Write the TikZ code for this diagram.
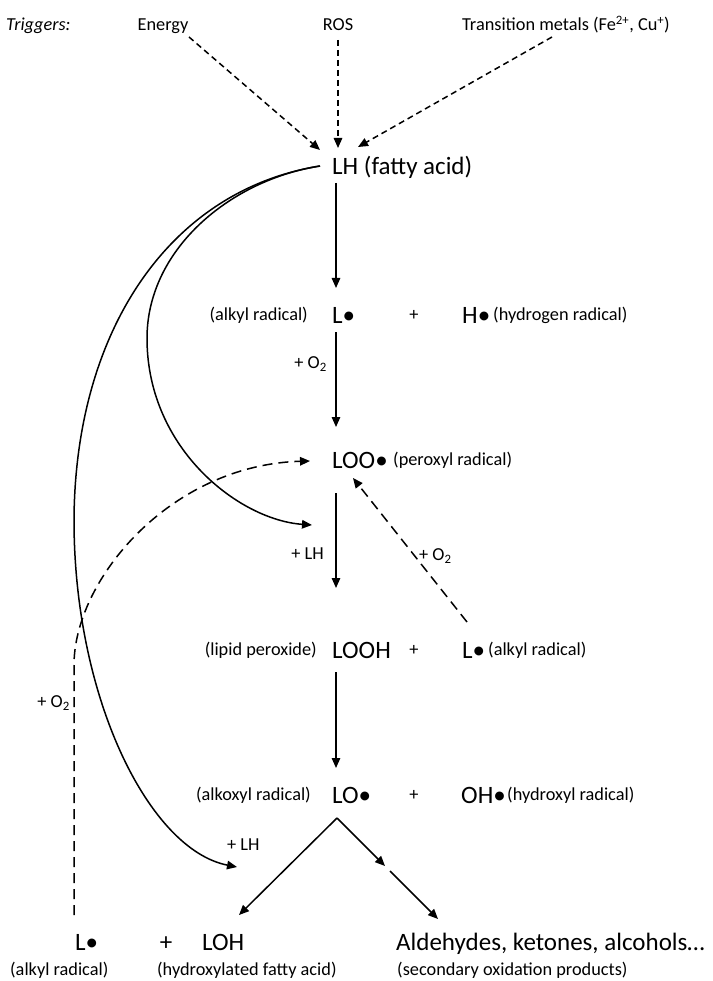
\documentclass[tikz,border=0pt]{standalone}
\usepackage{fontspec}
\setmainfont{Carlito}
\usetikzlibrary{arrows.meta}
\begin{document}
\begin{tikzpicture}[x=1pt,y=-1pt,
  big/.style={font=\fontsize{25}{30}\selectfont, inner sep=0pt},
  small/.style={font=\fontsize{18.3}{22}\selectfont, inner sep=0pt},
  arr/.style={line width=1.5pt, -{Triangle[length=10pt,width=8.5pt]}},
  trig/.style={arr, dash pattern=on 6pt off 4pt},
  dsh/.style={arr, dash pattern=on 10pt off 6pt}]
\useasboundingbox (0,0) rectangle (712,981);
% triggers row
\node[small, anchor=base west] (trg) at (6,30.5) {\itshape Triggers:};
\node[small, anchor=base] (energy) at (163,30.5) {Energy};
\node[small, anchor=base] (ros) at (338,30.5) {ROS};
\node[small, anchor=base west] (tm) at (462,30.5) {Transition metals (Fe\textsuperscript{2+}, Cu\textsuperscript{+})};
% main column
\node[big, anchor=base west] (LH) at (332,175) {LH (fatty acid)};
\node[small, anchor=base east] (alk1) at (308,320.5) {(alkyl radical)};
\node[big, anchor=base west] (L1) at (332,323) {L•};
\node[small, anchor=base] (p1) at (414,320.5) {+};
\node[big, anchor=base west] (H1) at (462,323) {H•};
\node[small, anchor=base west] (hyd) at (493,320.5) {(hydrogen radical)};
\node[small, anchor=base east] (o2a) at (327,368.5) {+ O\textsubscript{2}};
\node[big, anchor=base west] (LOO) at (332,468) {LOO•};
\node[small, anchor=base west] (perox) at (393,465.5) {(peroxyl radical)};
\node[small, anchor=base east] (lha) at (324,559.5) {+ LH};
\node[small, anchor=base west] (o2b) at (419,560.5) {+ O\textsubscript{2}};
\node[small, anchor=base east] (lipid) at (317,655.5) {(lipid peroxide)};
\node[big, anchor=base west] (LOOH) at (332,658) {LOOH};
\node[small, anchor=base] (p2) at (414,655.5) {+};
\node[big, anchor=base west] (L2) at (462,658) {L•};
\node[small, anchor=base west] (alk2) at (488,655.5) {(alkyl radical)};
\node[small, anchor=base east] (o2c) at (70,707.5) {+ O\textsubscript{2}};
\node[small, anchor=base east] (alkoxyl) at (311,800.5) {(alkoxyl radical)};
\node[big, anchor=base west] (LO) at (332,803) {LO•};
\node[small, anchor=base] (p3) at (414,800.5) {+};
\node[big, anchor=base west] (OH) at (461,803) {OH•};
\node[small, anchor=base west] (hydroxyl) at (507,800.5) {(hydroxyl radical)};
\node[small, anchor=base west] (lhb) at (227,850.5) {+ LH};
% bottom row
\node[big, anchor=base west] (L3) at (75,950) {L•};
\node[big, anchor=base] (p4) at (166,950) {+};
\node[big, anchor=base west] (LOH) at (202,950) {LOH};
\node[big, anchor=base west] (ald) at (396,950) {Aldehydes, ketones, alcohols…};
\node[small, anchor=base west] (alk3) at (10,975) {(alkyl radical)};
\node[small, anchor=base west] (hfa) at (157,975) {(hydroxylated fatty acid)};
\node[small, anchor=base west] (sop) at (397,975) {(secondary oxidation products)};
% connector end points
\coordinate (eS) at (189,37);   \coordinate (eE) at (320,150);
\coordinate (rS) at (338,40);   \coordinate (rE) at (338,148);
\coordinate (tS) at (552,37);   \coordinate (tE) at (358,147);
\coordinate (lhS) at (336,183); \coordinate (l1E) at (336,288);
\coordinate (l1S) at (336,332); \coordinate (looE) at (336,427);
\coordinate (looS) at (336,493); \coordinate (loohE) at (336,588);
\coordinate (loohS) at (336,672); \coordinate (loE) at (336,768);
\coordinate (apex) at (337,818);
\coordinate (lohE) at (239,915);
\coordinate (midE) at (385,866);
\coordinate (midS) at (390,871);
\coordinate (aldE) at (438,919);
\coordinate (l2S) at (467,622); \coordinate (looR) at (353,478);
\coordinate (lhL) at (320,166);
\coordinate (innerE) at (312,525);
\coordinate (outerE) at (237,867);
\coordinate (l3S) at (74,915);
\coordinate (looL) at (310,461);
% trigger arrows
\draw[trig] (eS) -- (eE);
\draw[trig] (rS) -- (rE);
\draw[trig] (tS) -- (tE);
% main arrows
\draw[arr] (lhS) -- (l1E);
\draw[arr] (l1S) -- (looE);
\draw[arr] (looS) -- (loohE);
\draw[arr] (loohS) -- (loE);
\draw[arr] (apex) -- (lohE);
\draw[arr] (apex) -- (midE);
\draw[arr] (midS) -- (aldE);
\draw[dsh] (l2S) -- (looR);
% curves
\draw[arr] (lhL) .. controls (230,180) and (146,250) .. (147,340)
  .. controls (148,450) and (240,520) .. (innerE);
\draw[arr] (lhL) .. controls (170,190) and (75,330) .. (74,520)
  .. controls (74,700) and (150,850) .. (outerE);
\draw[dsh] (l3S) -- (74,665) .. controls (74,580) and (170,465) .. (looL);
\end{tikzpicture}
\end{document}
